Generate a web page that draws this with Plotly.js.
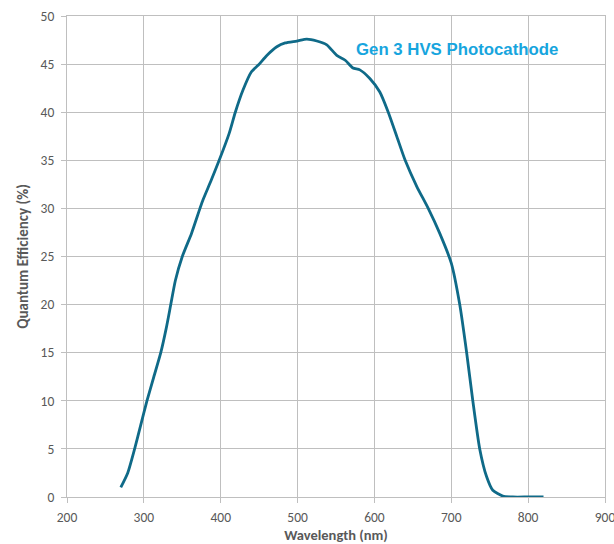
<!DOCTYPE html>
<html>
<head>
<meta charset="utf-8">
<script src="https://cdn.plot.ly/plotly-3.0.1.min.js"></script>
<style>
  html, body { margin: 0; padding: 0; background: #ffffff; }
  #chart { width: 614px; height: 544px; }
</style>
</head>
<body>
<div id="chart"></div>
<script>
// Spectral response of the photocathode: wavelength (nm) vs quantum efficiency (%)
const wavelength = [270, 279, 288, 296, 304, 313, 322, 329, 335, 341, 350, 362, 373, 377, 388, 398,
                    411, 419, 429, 440, 449, 460, 473, 484, 499, 512, 525, 538, 551, 562, 572, 581,
                    594, 607, 618, 629, 640, 655, 670, 685, 700, 711, 720, 728, 737, 746, 754, 767,
                    780, 800, 820];
const quantumEfficiency = [1.0, 2.5, 5.0, 7.5, 10.0, 12.5, 15.0, 17.5, 20.0, 22.5, 25.0, 27.4, 30.0, 30.9, 33.0, 35.0,
                           37.8, 40.0, 42.3, 44.2, 44.9, 45.9, 46.8, 47.2, 47.4, 47.6, 47.4, 47.0, 45.9, 45.4, 44.6, 44.4,
                           43.5, 42.1, 40.0, 37.5, 35.0, 32.3, 30.0, 27.4, 24.3, 20.0, 15.0, 10.0, 5.0, 2.1, 0.7, 0.1,
                           0.0, 0.0, 0.0];
const xTicks = [200, 300, 400, 500, 600, 700, 800, 900];
const yTicks = [0, 5, 10, 15, 20, 25, 30, 35, 40, 45, 50];
const seriesName = 'Gen 3 HVS Photocathode';

const gridColor = '#bfbfbf';
const labelColor = '#595959';
const baseFont = 'Carlito, Lato, "Liberation Sans", sans-serif';

const trace = {
  x: wavelength,
  y: quantumEfficiency,
  type: 'scatter',
  mode: 'lines',
  name: seriesName,
  line: { color: '#0f6a88', width: 2.8, shape: 'spline', smoothing: 0.6 },
  hoverinfo: 'x+y'
};

const axisCommon = {
  showgrid: true,
  gridcolor: gridColor,
  gridwidth: 1,
  showline: true,
  linecolor: gridColor,
  linewidth: 1,
  mirror: true,
  zeroline: false,
  ticks: 'outside',
  ticklen: 5,
  tickwidth: 1,
  tickcolor: gridColor,
  ticklabeloverflow: 'allow',
  tickfont: { family: baseFont, size: 13.5, color: labelColor },
  fixedrange: true
};

const layout = {
  width: 614,
  height: 544,
  margin: { l: 67, r: 9, t: 16, b: 47 },
  paper_bgcolor: '#ffffff',
  plot_bgcolor: '#ffffff',
  showlegend: false,
  xaxis: Object.assign({}, axisCommon, {
    range: [200, 900],
    tickmode: 'array',
    tickvals: xTicks,
    ticktext: xTicks.map(String),
    ticklabelstandoff: 3,
    title: { text: 'Wavelength (nm)', font: { family: baseFont, size: 14.5, color: labelColor, weight: 'bold' }, standoff: 9 }
  }),
  yaxis: Object.assign({}, axisCommon, {
    range: [0, 50],
    tickmode: 'array',
    tickvals: yTicks,
    ticktext: yTicks.map(String),
    ticklabelstandoff: 4,
    title: { text: 'Quantum Efficiency (%)', font: { family: baseFont, size: 15, color: labelColor, weight: 'bold' }, standoff: 8 }
  }),
  annotations: [{
    xref: 'x', yref: 'y',
    x: 574, y: 46.5,
    xanchor: 'left', yanchor: 'middle',
    text: '<b>' + seriesName + '</b>',
    showarrow: false,
    font: { family: '"Liberation Sans", Arial, sans-serif', size: 16.8, color: '#17a5de' }
  }]
};

Plotly.newPlot('chart', [trace], layout, { displayModeBar: false, staticPlot: true });
</script>
</body>
</html>
